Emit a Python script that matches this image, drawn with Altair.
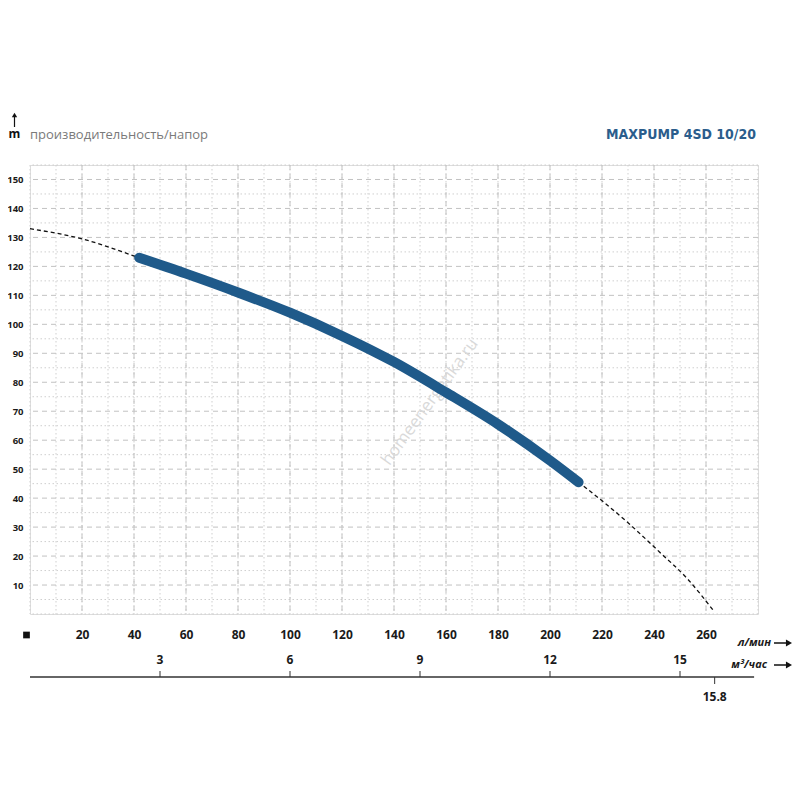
import altair as alt
import pandas as pd

# ---- data ----
flow_lpm = [0, 20, 42, 60, 80, 100, 120, 140, 160, 180, 200, 211, 230, 242, 253, 263]
head_m = [133, 129.5, 123, 117.5, 111, 104, 96, 87, 76.5, 65.5, 53, 45.5, 31.5, 21.5, 12, 1]
work_min, work_max = 42, 211

x_ticks = [20, 40, 60, 80, 100, 120, 140, 160, 180, 200, 220, 240, 260]
y_ticks = [10, 20, 30, 40, 50, 60, 70, 80, 90, 100, 110, 120, 130, 140, 150]
m3h_ticks = [3, 6, 9, 12, 15]
m3h_max = [15.8]

title_text = ["MAXPUMP 4SD 10/20"]
subtitle_text = ["производительность/напор"]
y_unit = ["m"]
x_unit1 = ["л/мин"]
x_unit2 = ["м³/час"]
watermark = ["homeenergetika.ru"]

X_MAX, Y_MAX = 280, 155
W, H = 728, 449

curve = pd.DataFrame({"q": flow_lpm, "h": head_m})
solid = curve[(curve.q >= work_min) & (curve.q <= work_max)]

xs = alt.Scale(domain=[0, X_MAX], nice=False, zero=False)
ys = alt.Scale(domain=[0, Y_MAX], nice=False, zero=False)

XA = alt.Axis(values=x_ticks, title=None, domain=False, ticks=False, grid=False,
              labelPadding=15, labelFont="Open Sans", labelFontSize=12,
              labelFontWeight="bold", labelColor="#1a1a1a")
YA = alt.Axis(values=y_ticks, title=None, domain=False, ticks=False, grid=False,
              labelPadding=7, labelFont="Open Sans", labelFontSize=9.5,
              labelFontWeight="bold", labelColor="#1a1a1a")

GRID = "#c2c2c2"

h_major = pd.DataFrame({"v": list(range(10, 151, 10))})
h_minor = pd.DataFrame({"v": [0] + [v + 5 for v in range(0, 151, 10)]})
v_major = pd.DataFrame({"v": list(range(20, 261, 20))})
v_minor = pd.DataFrame({"v": list(range(0, 281, 20)) + list(range(10, 271, 20))})

gh_minor = alt.Chart(h_minor).mark_rule(color="#cfcfcf", strokeWidth=1, strokeDash=[1.5, 2.5]).encode(
    y=alt.Y("v:Q", scale=ys, axis=YA))
gv_minor = alt.Chart(v_minor).mark_rule(color="#cfcfcf", strokeWidth=1, strokeDash=[1.5, 2.5]).encode(
    x=alt.X("v:Q", scale=xs, axis=XA))
gh_major = alt.Chart(h_major).mark_rule(color=GRID, strokeWidth=1, strokeDash=[5, 4]).encode(
    y=alt.Y("v:Q", scale=ys, axis=YA))
gv_major = alt.Chart(v_major).mark_rule(color=GRID, strokeWidth=1, strokeDash=[5, 4]).encode(
    x=alt.X("v:Q", scale=xs, axis=XA))

dash_line = alt.Chart(curve).mark_line(color="#111111", strokeWidth=1.3, strokeDash=[4, 3],
                                       interpolate="monotone").encode(
    x=alt.X("q:Q", scale=xs, axis=XA), y=alt.Y("h:Q", scale=ys, axis=YA))
solid_line = alt.Chart(solid).mark_line(color="#1f5a8a", strokeWidth=10, strokeCap="round",
                                        interpolate="monotone").encode(
    x=alt.X("q:Q", scale=xs, axis=XA), y=alt.Y("h:Q", scale=ys, axis=YA))

wm = alt.Chart(pd.DataFrame({"t": watermark})).mark_text(
    font="Open Sans", fontSize=17, color="#d9d9d9", angle=306, align="center", baseline="middle").encode(
    text="t:N", x=alt.value(400), y=alt.value(237))

title = alt.Chart(pd.DataFrame({"t": title_text})).mark_text(
    font="DejaVu Sans Condensed", fontSize=14, fontWeight="bold", color="#2b5d8c",
    align="right", baseline="middle").encode(text="t:N", x=alt.value(726), y=alt.value(-30))
subtitle = alt.Chart(pd.DataFrame({"t": subtitle_text})).mark_text(
    font="Open Sans", fontSize=13, color="#7a7a7a", align="left", baseline="middle").encode(
    text="t:N", x=alt.value(0), y=alt.value(-30))
yunit = alt.Chart(pd.DataFrame({"t": y_unit})).mark_text(
    font="Open Sans", fontSize=12, fontWeight="bold", color="#111111", align="center",
    baseline="middle").encode(text="t:N", x=alt.value(-15.5), y=alt.value(-31))
yarrow = alt.Chart(pd.DataFrame({"t": y_unit})).mark_rule(color="#111111", strokeWidth=1.2).encode(
    x=alt.value(-15.5), y=alt.value(-48), y2=alt.value(-38))
yarrow_head = alt.Chart(pd.DataFrame({"t": y_unit})).mark_point(
    shape="triangle-up", filled=True, color="#111111", size=28, opacity=1).encode(
    x=alt.value(-15.5), y=alt.value(-50))

origin_mark = alt.Chart(pd.DataFrame({"t": y_unit})).mark_square(
    color="#111111", size=45, opacity=1).encode(x=alt.value(-3.5), y=alt.value(470))

u1 = alt.Chart(pd.DataFrame({"t": x_unit1})).mark_text(
    font="Open Sans", fontSize=11, fontStyle="italic", fontWeight="bold", color="#1a1a1a",
    align="right", baseline="middle").encode(text="t:N", x=alt.value(741), y=alt.value(478))
u2 = alt.Chart(pd.DataFrame({"t": x_unit2})).mark_text(
    font="Open Sans", fontSize=11, fontStyle="italic", fontWeight="bold", color="#1a1a1a",
    align="right", baseline="middle").encode(text="t:N", x=alt.value(737), y=alt.value(500))
arr_rows = pd.DataFrame({"yy": [478, 500]})
arr_shaft = alt.Chart(arr_rows).mark_rule(color="#111111", strokeWidth=1.5).encode(
    x=alt.value(744), x2=alt.value(758), y=alt.Y("yy:Q", scale=None))
arr_head = alt.Chart(arr_rows).mark_point(shape="triangle-right", filled=True, color="#111111",
                                         size=50, opacity=1).encode(
    x=alt.value(759), y=alt.Y("yy:Q", scale=None))

# second flow scale (m³/h) drawn on the same l/min scale
m3 = pd.DataFrame({"m": m3h_ticks})
m3["q"] = m3["m"] * 1000 / 60
m3["lab"] = m3["m"].astype(str)
mx = pd.DataFrame({"m": m3h_max})
mx["q"] = mx["m"] * 1000 / 60
mx["lab"] = mx["m"].astype(str)

base_line = alt.Chart(pd.DataFrame({"a": [0], "b": [278.5]})).mark_rule(
    color="#333333", strokeWidth=1.5).encode(
    x=alt.X("a:Q", scale=xs, axis=XA), x2="b:Q", y=alt.value(512))
m3_ticks = alt.Chart(m3).mark_rule(color="#333333", strokeWidth=1).encode(
    x=alt.X("q:Q", scale=xs, axis=XA), y=alt.value(506), y2=alt.value(512))
m3_labels = alt.Chart(m3).mark_text(font="Open Sans", fontSize=12, fontWeight="bold",
                                    color="#1a1a1a", baseline="middle").encode(
    x=alt.X("q:Q", scale=xs, axis=XA), y=alt.value(495), text="lab:N")
mx_tick = alt.Chart(mx).mark_rule(color="#333333", strokeWidth=1).encode(
    x=alt.X("q:Q", scale=xs, axis=XA), y=alt.value(512), y2=alt.value(519))
mx_label = alt.Chart(mx).mark_text(font="Open Sans", fontSize=12, fontWeight="bold",
                                   color="#1a1a1a", baseline="middle").encode(
    x=alt.X("q:Q", scale=xs, axis=XA), y=alt.value(532), text="lab:N")

chart = alt.layer(
    gh_minor, gv_minor, gh_major, gv_major, wm, dash_line, solid_line,
    title, subtitle, yunit, yarrow, yarrow_head, origin_mark, u1, u2, arr_shaft, arr_head,
    base_line, m3_ticks, m3_labels, mx_tick, mx_label,
).properties(
    width=W, height=H,
    autosize=alt.AutoSizeParams(type="none"),
    padding={"left": 22, "top": 157, "right": 34, "bottom": 100},
).configure_view(stroke=None).configure(background="white")

chart.save("out.html", embed_options={"renderer": "svg", "actions": False})
